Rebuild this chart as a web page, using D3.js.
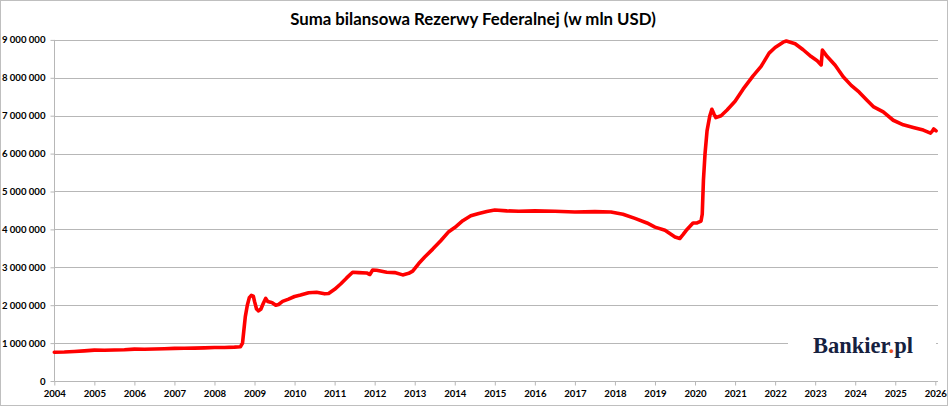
<!DOCTYPE html>
<html>
<head>
<meta charset="utf-8">
<script src="https://cdn.jsdelivr.net/npm/d3@7/dist/d3.min.js"></script>
<style>
  html, body { margin: 0; padding: 0; background: #fff; }
  svg { display: block; }
</style>
</head>
<body>
<svg id="chart" width="948" height="406"></svg>
<script>
const title = "Suma bilansowa Rezerwy Federalnej (w mln USD)";
const yearTicks = [2004,2005,2006,2007,2008,2009,2010,2011,2012,2013,2014,2015,2016,2017,2018,2019,2020,2021,2022,2023,2024,2025,2026];
const valueTicks = [0,1000000,2000000,3000000,4000000,5000000,6000000,7000000,8000000,9000000];

// decimal-year dates and balance sheet totals (mln USD)
const dates = [
  2004.00,2004.25,2004.50,2004.75,2005.00,2005.25,2005.50,2005.75,2006.00,2006.25,2006.50,2006.75,
  2007.00,2007.25,2007.50,2007.75,2008.00,2008.25,2008.50,2008.65,2008.70,2008.73,2008.77,2008.82,
  2008.87,2008.92,2008.97,2009.00,2009.05,2009.10,2009.16,2009.22,2009.28,2009.33,2009.40,2009.45,
  2009.53,2009.60,2009.70,2009.85,2010.00,2010.15,2010.35,2010.55,2010.75,2010.85,2011.00,2011.15,
  2011.30,2011.45,2011.60,2011.80,2011.88,2011.95,2012.05,2012.30,2012.50,2012.70,2012.85,2012.95,
  2013.10,2013.25,2013.45,2013.65,2013.85,2014.00,2014.20,2014.40,2014.60,2014.80,2015.00,2015.30,
  2015.60,2016.00,2016.50,2017.00,2017.50,2017.90,2018.20,2018.50,2018.80,2019.00,2019.25,2019.50,
  2019.62,2019.70,2019.80,2019.95,2020.05,2020.15,2020.18,2020.21,2020.25,2020.30,2020.37,2020.42,
  2020.47,2020.52,2020.65,2020.80,2021.00,2021.20,2021.45,2021.65,2021.85,2022.00,2022.20,2022.28,
  2022.50,2022.70,2022.90,2023.05,2023.15,2023.18,2023.30,2023.50,2023.70,2023.90,2024.10,2024.30,
  2024.45,2024.70,2024.95,2025.20,2025.45,2025.70,2025.88,2025.93,2025.96,2026.02
];
const values = [
  757000,765000,780000,795000,815000,812000,818000,825000,840000,838000,845000,850000,
  860000,865000,868000,875000,885000,885000,895000,905000,1000000,1300000,1700000,2000000,
  2200000,2260000,2240000,2100000,1900000,1850000,1900000,2050000,2180000,2100000,2080000,2060000,
  2000000,2020000,2100000,2160000,2230000,2270000,2330000,2340000,2300000,2310000,2420000,2560000,
  2720000,2870000,2860000,2850000,2810000,2930000,2920000,2870000,2860000,2800000,2840000,2900000,
  3100000,3270000,3480000,3700000,3940000,4050000,4230000,4360000,4420000,4470000,4510000,4490000,
  4480000,4490000,4480000,4460000,4470000,4460000,4400000,4290000,4170000,4060000,3980000,3800000,
  3760000,3860000,4000000,4170000,4170000,4220000,4400000,5300000,6000000,6600000,7000000,7170000,
  7050000,6950000,7000000,7150000,7380000,7700000,8050000,8300000,8650000,8800000,8940000,8970000,
  8900000,8740000,8560000,8450000,8340000,8730000,8560000,8330000,8030000,7800000,7620000,7400000,
  7240000,7100000,6880000,6760000,6690000,6620000,6540000,6600000,6650000,6600000
];

const svg = d3.select("#chart");
const W = 948, H = 406;
const plotLeft = 54.3, plotRight = 935.3, plotTop = 39.9, plotBottom = 381;

// outer border
svg.append("rect").attr("x",0.5).attr("y",0.5).attr("width",W-1).attr("height",H-1)
  .attr("fill","#fff").attr("stroke","#bfbfbf").attr("stroke-width",1);

const x = d3.scaleLinear().domain([2004,2026]).range([plotLeft,plotRight]);
const y = d3.scaleLinear().domain([0,9000000]).range([plotBottom,plotTop]);

const fmt = v => d3.format(",")(v).replace(/,/g," ");
const gridRight = 938;

// gridlines
svg.append("g").selectAll("line").data(valueTicks.filter(v=>v>0)).join("line")
  .attr("x1",plotLeft).attr("x2",gridRight)
  .attr("y1",d=>Math.round(y(d))+0.5).attr("y2",d=>Math.round(y(d))+0.5)
  .attr("stroke","#b7b7b7").attr("stroke-width",1);

// y axis
const yAxis = d3.axisLeft(y).tickValues(valueTicks).tickSize(4).tickPadding(5).tickFormat(fmt);
const gy = svg.append("g").attr("transform",`translate(${Math.round(plotLeft)+0.5},0)`).call(yAxis);
gy.select(".domain").attr("stroke","#b7b7b7").attr("d",`M0,${y(9000000)}V${plotBottom}`);
gy.selectAll(".tick line").attr("stroke","#b7b7b7");
gy.selectAll(".tick text").attr("font-family","Lato, 'Open Sans', sans-serif")
  .attr("font-weight","bold").attr("font-size","9.6px").attr("fill","#000");

// x axis
const xAxis = d3.axisBottom(x).tickValues(yearTicks).tickSize(4).tickPadding(5).tickFormat(d3.format("d"));
const gx = svg.append("g").attr("transform",`translate(0,${Math.round(plotBottom)+0.5})`).call(xAxis);
gx.select(".domain").attr("stroke","#b7b7b7").attr("d",`M${plotLeft},0H${gridRight}`);
gx.selectAll(".tick line").attr("stroke","#b7b7b7");
gx.selectAll(".tick text").attr("font-family","Lato, 'Open Sans', sans-serif")
  .attr("font-weight","bold").attr("font-size","9.6px").attr("fill","#000");

// logo background covering gridline
svg.append("rect").attr("x",788).attr("y",328).attr("width",148).attr("height",34).attr("fill","#fff");

// line
const series = dates.map((d,i)=>({t:d, v:values[i]}));
const line = d3.line().x(d=>x(d.t)).y(d=>y(d.v));
svg.append("path").datum(series).attr("d",line)
  .attr("fill","none").attr("stroke","#ff0000").attr("stroke-width",3.6)
  .attr("stroke-linejoin","round").attr("stroke-linecap","round");

// title
svg.append("text").attr("x",473).attr("y",25).attr("text-anchor","middle")
  .attr("font-family","Lato, 'Open Sans', sans-serif").attr("font-weight","bold")
  .attr("font-size","16.8px").attr("fill","#000").text(title);

// logo
const logo = svg.append("text").attr("x",863).attr("y",352.5).attr("text-anchor","middle")
  .attr("font-family","'Liberation Serif', 'DejaVu Serif', serif").attr("font-weight","bold")
  .attr("font-size","22.5px").attr("fill","#16213f");
logo.append("tspan").text("Bankier");
logo.append("tspan").attr("fill","#e8501e").text(".");
logo.append("tspan").text("pl");
</script>
</body>
</html>
